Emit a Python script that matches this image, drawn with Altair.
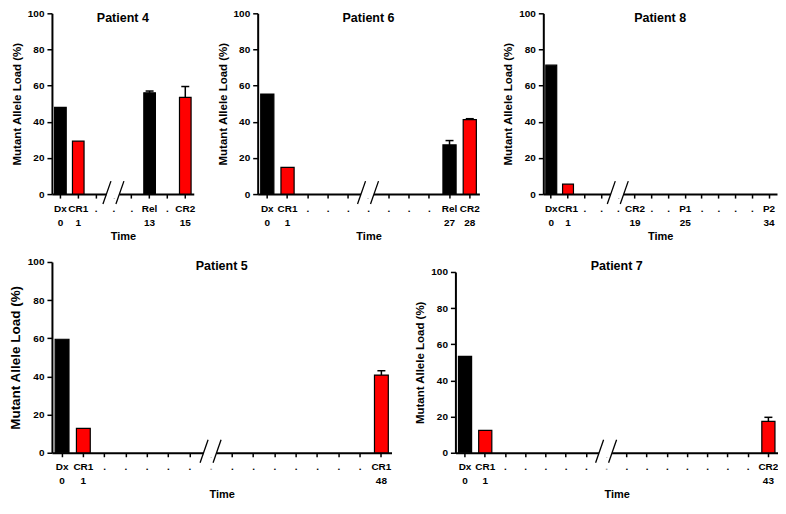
import altair as alt
import pandas as pd

FONT = "Liberation Sans"

# ---------------- data ----------------
p4_labels = ["Dx", "CR1", ".", ".", ".", "Rel", ".", "CR2"]
p4_times = ["0", "1", "", "", "", "13", "", "15"]
p4_bar_slots = [0, 1, 5, 7]
p4_values = [48.0, 29.3, 56.0, 53.5]
p4_errors = [0.0, 0.0, 1.0, 6.0]
p4_break = 3

p6_labels = ["Dx", "CR1", ".", ".", ".", ".", ".", ".", ".", "Rel", "CR2"]
p6_times = ["0", "1", "", "", "", "", "", "", "", "27", "28"]
p6_bar_slots = [0, 1, 9, 10]
p6_values = [55.3, 14.8, 27.2, 41.2]
p6_errors = [0.0, 0.0, 2.4, 0.5]
p6_break = 5

p8_labels = ["Dx", "CR1", ".", ".", ".", "CR2", ".", ".", "P1", ".", ".", ".", ".", "P2"]
p8_times = ["0", "1", "", "", "", "19", "", "", "25", "", "", "", "", "34"]
p8_bar_slots = [0, 1]
p8_values = [71.3, 5.5]
p8_errors = [0.0, 0.0]
p8_break = 4

p5_labels = ["Dx", "CR1", ".", ".", ".", ".", ".", ".", ".", ".", ".", ".", ".", ".", ".", "CR1"]
p5_times = ["0", "1", "", "", "", "", "", "", "", "", "", "", "", "", "", "48"]
p5_bar_slots = [0, 1, 15]
p5_values = [59.5, 12.8, 40.7]
p5_errors = [0.0, 0.0, 2.3]
p5_break = 7

p7_labels = ["Dx", "CR1", ".", ".", ".", ".", ".", ".", ".", ".", ".", ".", ".", ".", ".", "CR2"]
p7_times = ["0", "1", "", "", "", "", "", "", "", "", "", "", "", "", "", "43"]
p7_bar_slots = [0, 1, 15]
p7_values = [53.3, 12.4, 17.4]
p7_errors = [0.0, 0.0, 2.2]
p7_break = 7

Y_TICKS = [0, 20, 40, 60, 80, 100]


def panel(title, labels, times, bar_slots, values, errors, brk, width, height,
          ytitle_size=11.5, yrange=None, title_offset=-16, gray_break=False):
    n = len(labels)
    bars = pd.DataFrame({"slot": bar_slots, "value": values, "err": errors,
                         "label": [labels[s] for s in bar_slots]})
    bars["phase"] = ["Disease" if l in ("Dx", "Rel") else "Remission" for l in bars["label"]]
    errs = bars[bars["err"] > 0].copy()
    caps = pd.DataFrame({"slot": errs["slot"], "value": errs["value"] + errs["err"]})
    errs["top"] = errs["value"] + errs["err"]
    brk_df = pd.DataFrame({"slot": [brk], "value": [0.0]})

    arr = "[" + ",".join(f"['{l}','{t}']" for l, t in zip(labels, times)) + "]"
    label_color = "black"
    if gray_break:
        label_color = {"condition": {"test": f"datum.value == {brk}", "value": "#9a9a9a"},
                       "value": "black"}
    xaxis = alt.Axis(title="Time", labelExpr=f"{arr}[datum.value]", labelAngle=0,
                     labelOverlap=False, labelColor=label_color)
    x = alt.X("slot:O", scale=alt.Scale(domain=list(range(n)), paddingInner=0.35,
                                        paddingOuter=0.15), axis=xaxis)
    sc = dict(domain=[0, 100], nice=False, zero=True)
    if yrange is not None:
        sc["range"] = yrange
    y = alt.Y("value:Q", scale=alt.Scale(**sc),
              axis=alt.Axis(title="Mutant Allele Load (%)", values=Y_TICKS,
                            titleFontSize=ytitle_size))

    bar_layer = alt.Chart(bars).mark_bar(stroke="black", strokeWidth=1.2).encode(
        x=x, y=y,
        color=alt.Color("phase:N", scale=alt.Scale(domain=["Disease", "Remission"],
                                                   range=["#000000", "#ff0000"]), legend=None))
    layers = [bar_layer]
    white = alt.Chart(brk_df).mark_rule(color="white", strokeWidth=9, xOffset=-7.5,
                                        x2Offset=5.5).encode(x=x, x2=alt.X2("slot"), y=y)
    s1 = alt.Chart(brk_df).mark_rule(color="black", strokeWidth=1.3, xOffset=-11, x2Offset=-3,
                                     yOffset=10, y2Offset=-13).encode(
        x=x, x2=alt.X2("slot"), y=y, y2=alt.Y2("value"))
    s2 = alt.Chart(brk_df).mark_rule(color="black", strokeWidth=1.3, xOffset=2, x2Offset=10,
                                     yOffset=10, y2Offset=-13).encode(
        x=x, x2=alt.X2("slot"), y=y, y2=alt.Y2("value"))
    layers += [white, s1, s2]
    if len(errs):
        stem = alt.Chart(errs).mark_rule(color="black", strokeWidth=1.5).encode(
            x=x, y=y, y2=alt.Y2("top"))
        cap = alt.Chart(caps).mark_rule(color="black", strokeWidth=1.5, xOffset=-4,
                                        x2Offset=4).encode(x=x, x2=alt.X2("slot"), y=y)
        layers += [stem, cap]
    return alt.layer(*layers).properties(
        width=width, height=height,
        title=alt.TitleParams(text=title, fontSize=12.5, font=FONT, fontWeight="bold",
                              color="black", anchor="middle", offset=title_offset,
                              frame="group"))


H1 = 181
H2 = 191
p4 = panel("Patient 4", p4_labels, p4_times, p4_bar_slots, p4_values, p4_errors, p4_break, 142, H1)
p6 = panel("Patient 6", p6_labels, p6_times, p6_bar_slots, p6_values, p6_errors, p6_break, 222, H1)
p8 = panel("Patient 8", p8_labels, p8_times, p8_bar_slots, p8_values, p8_errors, p8_break, 234, H1)
p5 = panel("Patient 5", p5_labels, p5_times, p5_bar_slots, p5_values, p5_errors, p5_break, 340, H2,
           ytitle_size=13.5, gray_break=True)
p7 = panel("Patient 7", p7_labels, p7_times, p7_bar_slots, p7_values, p7_errors, p7_break, 323, H2,
           yrange=[H2, 10], title_offset=-11, gray_break=True)

top = alt.hconcat(p4, p6, p8, spacing=64, bounds="flush")
bottom = alt.hconcat(p5, p7, spacing=64, bounds="flush")
chart = alt.vconcat(top, bottom, spacing=16).properties(padding=0)

chart = chart.configure_view(stroke=None).configure_axis(
    domainColor="black", domainWidth=2, tickColor="black", tickWidth=1.5,
    labelFont=FONT, labelFontWeight="bold", labelColor="black",
    titleFont=FONT, titleFontWeight="bold", titleColor="black", grid=False
).configure_axisX(
    labelFontSize=10, tickSize=4, labelPadding=5, titleFontSize=11, titlePadding=3,
    labelLineHeight=14
).configure_axisY(
    labelFontSize=10, tickSize=5, labelPadding=3, titlePadding=5
)

chart.save("out.html", embed_options={"renderer": "svg", "actions": False})
